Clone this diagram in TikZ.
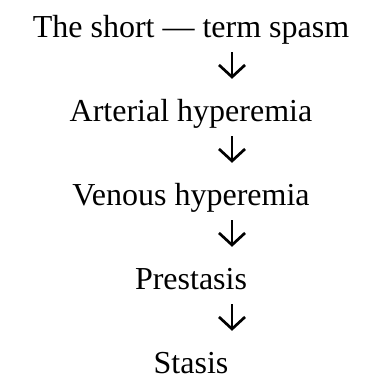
\documentclass[tikz,border=0pt]{standalone}
\usepackage{fontspec}
\setmainfont{Liberation Serif}
\usetikzlibrary{arrows.meta}
\begin{document}
\begin{tikzpicture}[x=1pt, y=-1pt,
  stage/.style={inner sep=0pt, anchor=base, text height=24pt, text depth=4pt,
    font=\fontsize{32}{38}\selectfont},
  flow/.style={line width=2.7pt, -{Straight Barb[length=12pt, width=26pt]},
    shorten <=11pt, shorten >=18pt}]
  \useasboundingbox (0,0) rectangle (382,378);

  % stages, top to bottom
  \node[stage] (spasm)    at (191,37)  {The short --- term spasm};
  \node[stage] (arterial) at (191,121) {Arterial hyperemia};
  \node[stage] (venous)   at (191,205) {Venous hyperemia};
  \node[stage] (pre)      at (191,289) {Prestasis};
  \node[stage] (stasis)   at (191,373) {Stasis};

  % arrows sit right of the centre line
  \coordinate (col) at (232,0);
  \draw[flow] (spasm.south -| col)    -- (arterial.north -| col);
  \draw[flow] (arterial.south -| col) -- (venous.north -| col);
  \draw[flow] (venous.south -| col)   -- (pre.north -| col);
  \draw[flow] (pre.south -| col)      -- (stasis.north -| col);
\end{tikzpicture}
\end{document}
